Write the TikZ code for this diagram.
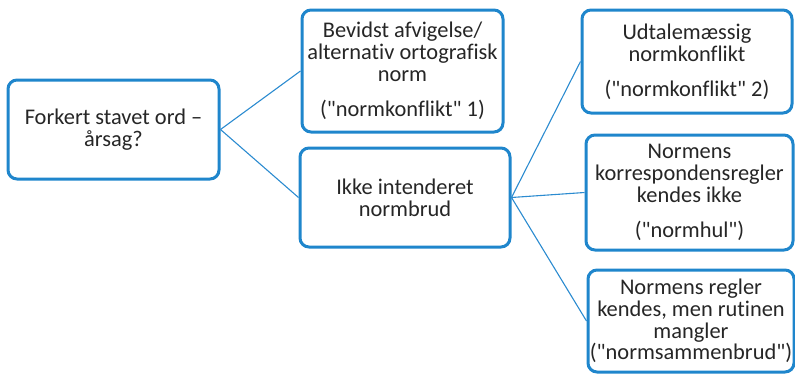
\documentclass[tikz,border=0pt]{standalone}
\usepackage{fontspec}
\setmainfont{Carlito}[Ligatures={TeXReset,NoCommon}]
\definecolor{boxblue}{HTML}{1F86CC}
\definecolor{lineblue}{HTML}{2B8BD0}
\definecolor{txt}{HTML}{262626}
\begin{document}
\begin{tikzpicture}[x=1pt,y=-1pt,
  box/.style={draw=boxblue,line width=3pt,rounded corners=9pt,fill=white,
    align=center,text=txt,font=\fontsize{22.4}{21.8}\selectfont,inner sep=0pt},
  conn/.style={draw=lineblue,line width=1.1pt}]
\useasboundingbox (0,0) rectangle (795,375);
\node[box,minimum width=211pt,minimum height=99pt] (a) at (113.5,129.5)
  {Forkert stavet ord –\\årsag?};
\node[box,minimum width=201pt,minimum height=122pt] (b) at (402.5,71)
  {Bevidst afvigelse/\\alternativ ortografisk\\norm\\[14pt]("normkonflikt" 1)};
\node[box,minimum width=210pt,minimum height=99pt] (c) at (405,197.5)
  {Ikke intenderet\\normbrud};
\node[box,minimum width=210pt,minimum height=103pt] (d) at (687,61.5)
  {Udtalemæssig\\normkonflikt\\[13pt]("normkonflikt" 2)};
\node[box,minimum width=207pt,minimum height=115pt] (e) at (689.5,192.5)
  {Normens\\korrespondensregler\\kendes ikke\\[14pt]("normhul")};
\node[box,minimum width=206pt,minimum height=102pt] (f) at (691,321)
  {Normens regler\\kendes, men rutinen\\mangler\\("normsammenbrud")};
\draw[conn] (a.east) -- (b.west);
\draw[conn] (a.east) -- (c.west);
\draw[conn] (c.east) -- (d.west);
\draw[conn] (c.east) -- (e.west);
\draw[conn] (c.east) -- (f.west);
\end{tikzpicture}
\end{document}
